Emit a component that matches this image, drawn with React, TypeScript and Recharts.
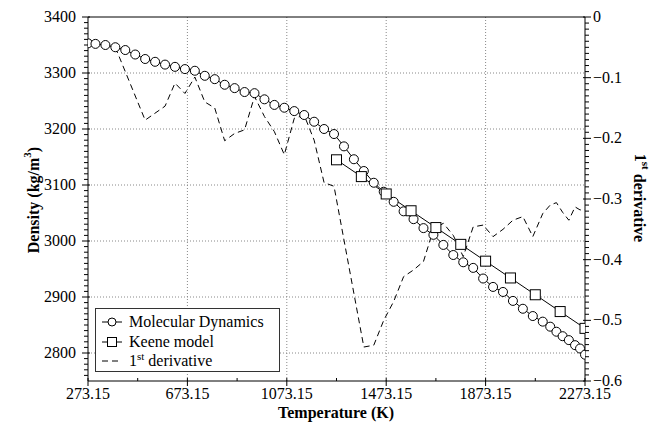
import React from 'react'
import { LineChart, Line, XAxis, YAxis, CartesianGrid, ReferenceLine, Label } from 'recharts'

const FONT = '"Times New Roman", "Liberation Serif", Times, serif'
const txt = { fontFamily: FONT, fontSize: 16, fontWeight: 'normal' as const }
const bold = { fontFamily: FONT, fontSize: 16, fontWeight: 'bold' as const }

// Molecular Dynamics (circles)
const mdTemp = [
  273.15, 303.15, 343.15, 383.15, 423.15, 463.15, 503.15, 543.15, 583.15, 623.15,
  663.15, 703.15, 743.15, 783.15, 823.15, 863.15, 903.15, 943.15, 983.15, 1023.15,
  1063.15, 1103.15, 1143.15, 1183.15, 1223.15, 1263.15, 1303.15, 1343.15, 1383.15, 1423.15,
  1463.15, 1503.15, 1543.15, 1583.15, 1623.15, 1663.15, 1703.15, 1743.15, 1783.15, 1823.15,
  1863.15, 1903.15, 1943.15, 1983.15, 2023.15, 2063.15, 2103.15, 2133.15, 2158.15, 2183.15,
  2208.15, 2233.15, 2253.15, 2273.15,
]
const mdDensity = [
  3353, 3352, 3350, 3346, 3341, 3333, 3325, 3320, 3315, 3311,
  3307, 3304, 3295, 3289, 3279, 3273, 3266, 3264, 3253, 3243,
  3238, 3232, 3225, 3213, 3200, 3191, 3169, 3146, 3125, 3104,
  3088, 3070, 3053, 3039, 3023, 3011, 2993, 2975, 2962, 2952,
  2933, 2918, 2909, 2893, 2879, 2866, 2856, 2847, 2838, 2830,
  2823, 2814, 2808, 2797,
]

// Keene model (squares)
const keeneTemp = [1273.15, 1373.15, 1473.15, 1573.15, 1673.15, 1773.15, 1873.15, 1973.15, 2073.15, 2173.15, 2273.15]
const keeneDensity = [3145, 3115, 3084, 3054, 3024, 2994, 2964, 2934, 2904, 2874, 2844]

// 1st derivative (dashed, right axis)
const derivTemp = [
  383.15, 503.15, 583.15, 623.15, 663.15, 703.15, 743.15, 783.15, 823.15, 863.15,
  903.15, 943.15, 983.15, 1023.15, 1063.15, 1103.15, 1143.15, 1183.15, 1223.15, 1263.15,
  1383.15, 1423.15, 1463.15, 1503.15, 1543.15, 1583.15, 1623.15, 1663.15, 1703.15, 1743.15,
  1783.15, 1823.15, 1863.15, 1903.15, 1943.15, 1983.15, 2023.15, 2063.15, 2103.15, 2133.15,
  2158.15, 2183.15, 2208.15, 2233.15, 2253.15, 2273.15,
]
const derivValue = [
  -0.05, -0.17, -0.147, -0.109, -0.126, -0.099, -0.14, -0.15, -0.204, -0.192,
  -0.186, -0.131, -0.164, -0.189, -0.227, -0.167, -0.162, -0.203, -0.273, -0.279,
  -0.544, -0.541, -0.5, -0.469, -0.428, -0.417, -0.403, -0.35, -0.34, -0.36,
  -0.395, -0.346, -0.343, -0.362, -0.35, -0.335, -0.329, -0.362, -0.324, -0.31,
  -0.306, -0.322, -0.335, -0.313, -0.318, -0.318,
]

const xLabels = [273.15, 673.15, 1073.15, 1473.15, 1873.15, 2273.15]
const leftLabels = [2800, 2900, 3000, 3100, 3200, 3300, 3400]
const rightLabels = [-0.6, -0.5, -0.4, -0.3, -0.2, -0.1, 0]

const mdData = mdTemp.map((t, i) => ({ t, d: mdDensity[i] }))
const keeneData = keeneTemp.map((t, i) => ({ t, d: keeneDensity[i] }))
const derivData = derivTemp.map((t, i) => ({ t, v: derivValue[i] }))

// minor ticks between the labelled ones
const withMinor = (majors: number[], parts: number, from?: number) => {
  const out: number[] = []
  const start = from ?? majors[0]
  const step = (majors[1] - majors[0]) / parts
  for (let v = start; v <= majors[majors.length - 1] + 1e-9; v += step) out.push(Math.round(v * 1000) / 1000)
  return out
}
const xTicks = withMinor(xLabels, 2)
const leftTicks = withMinor(leftLabels, 10, 2760)
const rightTicks = withMinor(rightLabels, 10)

const isMajor = (list: number[], v: number) => list.some(m => Math.abs(m - v) < 1e-6)

const XTick = ({ x, y, payload }: any) => {
  const major = isMajor(xLabels, payload.value)
  return (
    <g>
      <line x1={x} x2={x} y1={y - 3} y2={major ? y + 5 : y} stroke="#000" />
      {major && (
        <text x={x} y={y + 18} textAnchor="middle" style={txt} fill="#000">
          {payload.value.toFixed(2)}
        </text>
      )}
    </g>
  )
}

const LeftTick = ({ x, y, payload }: any) => {
  const major = isMajor(leftLabels, payload.value)
  return (
    <g>
      <line x1={major ? x - 6 : x - 4} x2={major ? x + 2 : x} y1={y} y2={y} stroke="#000" />
      {major && (
        <text x={x - 12} y={y + 5} textAnchor="end" style={txt} fill="#000">
          {payload.value}
        </text>
      )}
    </g>
  )
}

const RightTick = ({ x, y, payload }: any) => {
  const major = isMajor(rightLabels, payload.value)
  const label = payload.value === 0 ? '0' : '\u2212' + Math.abs(payload.value).toFixed(1)
  return (
    <g>
      <line x1={major ? x - 2 : x} x2={major ? x + 6 : x + 4} y1={y} y2={y} stroke="#000" />
      {major && (
        <text x={x + 8} y={y + 5} textAnchor="start" style={txt} fill="#000">
          {label}
        </text>
      )}
    </g>
  )
}

const Square = (props: any) => {
  const { cx, cy, index } = props
  return <rect key={`sq-${index}`} x={cx - 5} y={cy - 5} width={10} height={10} fill="#fff" stroke="#000" strokeWidth={1} />
}

function LegendBox() {
  return (
    <div style={{ position: 'absolute', left: 95, top: 308, width: 185, height: 64, border: '1.5px solid #333', background: '#fff', boxSizing: 'border-box' }}>
      <svg width={183} height={62} style={{ display: 'block' }}>
        <line x1={6} x2={26} y1={13} y2={13} stroke="#000" />
        <circle cx={16} cy={13} r={4} fill="#fff" stroke="#000" />
        <text x={33} y={18} style={txt}>Molecular Dynamics</text>
        <line x1={6} x2={26} y1={33} y2={33} stroke="#000" />
        <rect x={11.5} y={28.5} width={9} height={9} fill="#fff" stroke="#000" />
        <text x={33} y={38} style={txt}>Keene model</text>
        <line x1={6} x2={26} y1={52} y2={52} stroke="#000" strokeDasharray="6 4" />
        <text x={33} y={57} style={txt}>
          1<tspan dy={-6} style={{ fontSize: 11 }}>st</tspan><tspan dy={6}> derivative</tspan>
        </text>
      </svg>
    </div>
  )
}

export default function App() {
  return (
    <div style={{ position: 'absolute', left: 0, top: 0, width: 651, height: 428, background: '#fff' }}>
      <LineChart width={651} height={428} margin={{ top: 17, right: 0, bottom: 0, left: 0 }}>
        <CartesianGrid
          yAxisId="left"
          stroke="#888"
          strokeDasharray="1 2"
          horizontalValues={[2800, 2900, 3000, 3100, 3200, 3300]}
          verticalValues={[673.15, 1073.15, 1473.15, 1873.15]}
        />
        <XAxis
          dataKey="t"
          type="number"
          domain={[273.15, 2273.15]}
          allowDataOverflow
          ticks={xTicks}
          interval={0}
          tick={<XTick />}
          tickLine={false}
          tickSize={0}
          tickMargin={0}
          height={47}
          axisLine={{ stroke: '#000' }}
        >
          <Label
            content={() => (
              <text x={336} y={418} textAnchor="middle" style={bold} fill="#000">
                Temperature (K)
              </text>
            )}
          />
        </XAxis>
        <YAxis
          yAxisId="left"
          type="number"
          domain={[2750, 3400]}
          allowDataOverflow
          ticks={leftTicks}
          interval={0}
          tick={<LeftTick />}
          tickLine={false}
          tickSize={0}
          tickMargin={0}
          width={88}
          axisLine={{ stroke: '#000' }}
        >
          <Label
            content={() => (
              <text x={33} y={200} transform="rotate(-90, 33, 200)" textAnchor="middle" dominantBaseline="central" style={bold} fill="#000">
                Density (kg/m<tspan dy={-6} style={{ fontSize: 11 }}>3</tspan><tspan dy={6}>)</tspan>
              </text>
            )}
          />
        </YAxis>
        <YAxis
          yAxisId="right"
          orientation="right"
          type="number"
          domain={[-0.6, 0]}
          allowDataOverflow
          ticks={rightTicks}
          interval={0}
          tick={<RightTick />}
          tickLine={false}
          tickSize={0}
          tickMargin={0}
          width={66}
          axisLine={{ stroke: '#000' }}
        >
          <Label
            content={() => (
              <text x={640} y={198} transform="rotate(90, 640, 198)" textAnchor="middle" dominantBaseline="central" style={bold} fill="#000">
                1<tspan dy={-6} style={{ fontSize: 11 }}>st</tspan><tspan dy={6}> derivative</tspan>
              </text>
            )}
          />
        </YAxis>
        <ReferenceLine yAxisId="left" y={3400} stroke="#000" />
        <Line
          yAxisId="right"
          data={derivData}
          dataKey="v"
          stroke="#000"
          strokeWidth={1}
          strokeDasharray="6 4"
          dot={false}
          isAnimationActive={false}
        />
        <Line
          yAxisId="left"
          data={mdData}
          dataKey="d"
          stroke="#000"
          strokeWidth={1}
          dot={{ r: 4.5, fill: '#fff', stroke: '#000', strokeWidth: 1 }}
          isAnimationActive={false}
        />
        <Line
          yAxisId="left"
          data={keeneData}
          dataKey="d"
          stroke="#000"
          strokeWidth={1}
          dot={Square}
          isAnimationActive={false}
        />
      </LineChart>
      <LegendBox />
    </div>
  )
}
